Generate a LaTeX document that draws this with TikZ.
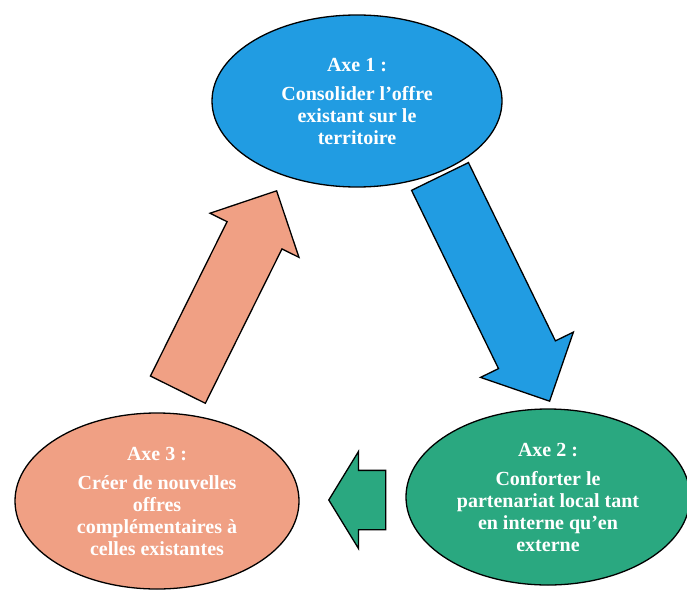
\documentclass[tikz,border=0pt]{standalone}
\usepackage{fontspec}
\setmainfont{Liberation Serif}
\definecolor{axblue}{RGB}{33,156,226}
\definecolor{axorange}{RGB}{240,160,132}
\definecolor{axgreen}{RGB}{42,168,128}
\usetikzlibrary{arrows.meta,positioning,shapes.geometric,shapes.arrows}

\begin{document}
\begin{tikzpicture}[x=1pt,y=-1pt,
    axe/.style={ellipse,draw=black,line width=1.3pt,text=white,align=center,
      font=\fontsize{20}{22}\selectfont\bfseries,inner sep=0pt},
    fleche/.style={single arrow,draw=black,line width=1.3pt,inner xsep=0pt,
      single arrow tip angle=90,minimum width=0pt,anchor=tip}]
  \useasboundingbox (0,0) rectangle (687,591);

  % Ellipses
  \node[axe,fill=axblue,minimum width=290pt,minimum height=172pt] (axeun) at (357,101)
    {Axe 1 :\\[7pt]Consolider l'offre\\existant sur le\\territoire};
  \node[axe,fill=axgreen,minimum width=284pt,minimum height=176pt] (axedeux) at (548,497)
    {Axe 2 :\\[7pt]Conforter le\\partenariat local tant\\en interne qu'en\\externe};
  \node[axe,fill=axorange,minimum width=284pt,minimum height=176pt] (axetrois) at (157,501)
    {Axe 3 :\\[7pt]Créer de nouvelles\\offres\\complémentaires à\\celles existantes};

  % Block arrows
  \node[fleche,fill=axblue,rotate=-64,minimum height=250pt,inner ysep=31pt,
    single arrow head extend=20pt] (flun) at (550,402) {};
  \node[fleche,fill=axgreen,rotate=180,minimum height=57pt,inner ysep=29pt,
    single arrow head extend=19pt,single arrow tip angle=117] (fldeux) at (328,500) {};
  \node[fleche,fill=axorange,rotate=63.6,minimum height=222pt,inner ysep=30pt,
    single arrow head extend=19pt] (fltrois) at (277,190) {};
\end{tikzpicture}
\end{document}
